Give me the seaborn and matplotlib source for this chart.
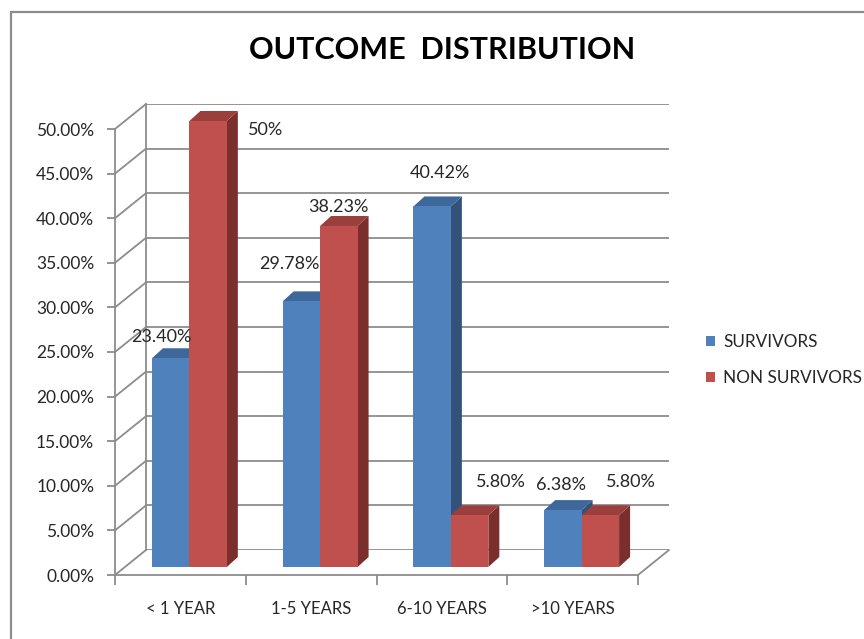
import matplotlib
matplotlib.use("Agg")
import matplotlib.pyplot as plt
from matplotlib.patches import Polygon, Rectangle, ConnectionPatch
from matplotlib.ticker import PercentFormatter, FixedLocator
import numpy as np
import pandas as pd
import seaborn as sns

# ---- data -------------------------------------------------------------
categories = ["< 1 YEAR", "1-5 YEARS", "6-10 YEARS", ">10 YEARS"]
series_names = ["SURVIVORS", "NON SURVIVORS"]
survivors = [23.40, 29.78, 40.42, 6.38]
non_survivors = [50.00, 38.23, 5.80, 5.80]
survivor_labels = ["23.40%", "29.78%", "40.42%", "6.38%"]
non_survivor_labels = ["50%", "38.23%", "5.80%", "5.80%"]
y_ticks = [0, 5, 10, 15, 20, 25, 30, 35, 40, 45, 50]

# ---- style ------------------------------------------------------------
sns.set_theme(style="white")
plt.rcParams["font.family"] = ["Lato", "DejaVu Sans"]

W, H = 864, 639
GRID = "#8c8c8c"
TEXT = "#262626"
FRONT = {"SURVIVORS": "#4f81bd", "NON SURVIVORS": "#c0504d"}
TOP = {"SURVIVORS": "#3e679a", "NON SURVIVORS": "#9b3f3c"}
SIDE = {"SURVIVORS": "#33527a", "NON SURVIVORS": "#7a2f2d"}

fig = plt.figure(figsize=(W / 100, H / 100), dpi=100)
fig.patch.set_facecolor("white")


def px_rect(left, top, right, bottom):
    return [left / W, (H - bottom) / H, (right - left) / W, (bottom - top) / H]


# chart frame (top and left edges visible)
fig.add_artist(Rectangle((11 / W, -0.1), 1.2, (H - 12) / H + 0.1,
                         transform=fig.transFigure, fill=False,
                         edgecolor=GRID, linewidth=1.6, zorder=0))

# three planes of the pseudo-3D box: back wall, front edge, bar plane
ax_w = fig.add_axes(px_rect(146, 104, 669, 550))
ax_f = fig.add_axes(px_rect(115, 129, 638, 575))
ax_b = fig.add_axes(px_rect(124, 121, 647, 567))
for z, ax in enumerate([ax_w, ax_f, ax_b]):
    ax.set_zorder(z)
    ax.patch.set_visible(False)
    ax.set_xlim(-0.5, len(categories) - 0.5)
    ax.set_ylim(0, 50)
    for s in ax.spines.values():
        s.set_visible(False)

# back wall: horizontal gridlines and left edge
ax_w.set_xticks([])
ax_w.yaxis.set_major_locator(FixedLocator(y_ticks))
ax_w.tick_params(axis="y", length=0, labelleft=False)
ax_w.grid(axis="y", color=GRID, linewidth=1.3)
ax_w.spines["left"].set_visible(True)
ax_w.spines["left"].set_color(GRID)
ax_w.spines["left"].set_linewidth(1.3)

# side wall and floor diagonals joining front edge to back wall
for v in y_ticks:
    fig.add_artist(ConnectionPatch(xyA=(-0.5, v), coordsA=ax_f.transData,
                                   xyB=(-0.5, v), coordsB=ax_w.transData,
                                   color=GRID, linewidth=1.3, zorder=0.5))
fig.add_artist(ConnectionPatch(xyA=(len(categories) - 0.5, 0), coordsA=ax_f.transData,
                               xyB=(len(categories) - 0.5, 0), coordsB=ax_w.transData,
                               color=GRID, linewidth=1.3, zorder=0.5))

# front edge: value axis and category axis
ax_f.spines["left"].set_visible(True)
ax_f.spines["bottom"].set_visible(True)
for s in ("left", "bottom"):
    ax_f.spines[s].set_color(GRID)
    ax_f.spines[s].set_linewidth(1.3)
ax_f.yaxis.set_major_locator(FixedLocator(y_ticks))
ax_f.yaxis.set_major_formatter(PercentFormatter(xmax=100, decimals=2))
ax_f.tick_params(axis="y", direction="out", length=6, width=1.3, color=GRID,
                 pad=9, labelsize=12.5, labelcolor=TEXT, left=True)
ax_f.set_xticks(range(len(categories)))
ax_f.set_xticklabels(categories)
ax_f.set_xticks(np.arange(-0.5, len(categories)), minor=True)
ax_f.tick_params(axis="x", which="major", length=0, pad=19, labelsize=12,
                 labelcolor=TEXT)
ax_f.tick_params(axis="x", which="minor", direction="out", length=7, width=1.3,
                 color=GRID, bottom=True)
ax_f.set_xlabel("")
ax_f.set_ylabel("")

# bars
df = pd.DataFrame({
    "period": categories * 2,
    "share": survivors + non_survivors,
    "group": [series_names[0]] * len(categories) + [series_names[1]] * len(categories),
})
sns.barplot(data=df, x="period", y="share", hue="group", order=categories,
            hue_order=series_names, palette=[FRONT[n] for n in series_names],
            saturation=1, width=0.573, linewidth=0, ax=ax_b, zorder=3)
handles, labels = ax_b.get_legend_handles_labels()
if ax_b.legend_ is not None:
    ax_b.legend_.remove()
ax_b.set_xlim(-0.5, len(categories) - 0.5)
ax_b.set_ylim(0, 50)
ax_b.set_xticks([])
ax_b.set_yticks([])
ax_b.set_xlabel("")
ax_b.set_ylabel("")

# depth faces of each bar, depth given in pixels and converted to data units
fig.canvas.draw()
p0 = ax_b.transData.transform((0, 0))
p1 = ax_b.transData.transform((1, 1))
dx = 11 / (p1[0] - p0[0])
dy = 10 / (p1[1] - p0[1])

# label nudges in pixels (right, up) from the top centre of each bar face
nudges = {
    "SURVIVORS": [(-9, 21), (-12, 37), (8, 33), (-2, 25)],
    "NON SURVIVORS": [(58, -9), (0, 19), (31, 33), (31, 33)],
}
texts = {"SURVIVORS": survivor_labels, "NON SURVIVORS": non_survivor_labels}

for name, container in zip(series_names, ax_b.containers):
    for i, bar in enumerate(container.patches):
        x0 = bar.get_x()
        x1 = x0 + bar.get_width()
        h = bar.get_height()
        side = Polygon([(x1, 0), (x1 + dx, dy), (x1 + dx, h + dy), (x1, h)],
                       closed=True, facecolor=SIDE[name], edgecolor="none",
                       zorder=1.5, clip_on=False)
        top = Polygon([(x0, h), (x1, h), (x1 + dx, h + dy), (x0 + dx, h + dy)],
                      closed=True, facecolor=TOP[name], edgecolor="none",
                      zorder=1.7, clip_on=False)
        ax_b.add_patch(side)
        ax_b.add_patch(top)
        bar.set_zorder(2)
        bar.set_clip_on(False)
        ndx, ndy = nudges[name][i]
        ax_b.annotate(texts[name][i], xy=((x0 + x1) / 2, h),
                      xytext=(ndx * 0.72, ndy * 0.72), textcoords="offset points",
                      ha="center", va="center", fontsize=13, color=TEXT,
                      annotation_clip=False, zorder=5)

# legend
fig.legend(handles, labels, loc="center left",
           bbox_to_anchor=(706 / W, 1 - 360 / H), frameon=False,
           fontsize=12.3, labelcolor=TEXT, handlelength=0.55, handleheight=0.55,
           handletextpad=0.45, labelspacing=1.2, borderpad=0, borderaxespad=0)

# title
fig.text(442 / W, 1 - 50 / H, "OUTCOME  DISTRIBUTION", ha="center", va="center",
         fontsize=22, fontweight="bold", color="black")

fig.savefig("out.png", dpi=100, facecolor="white")
